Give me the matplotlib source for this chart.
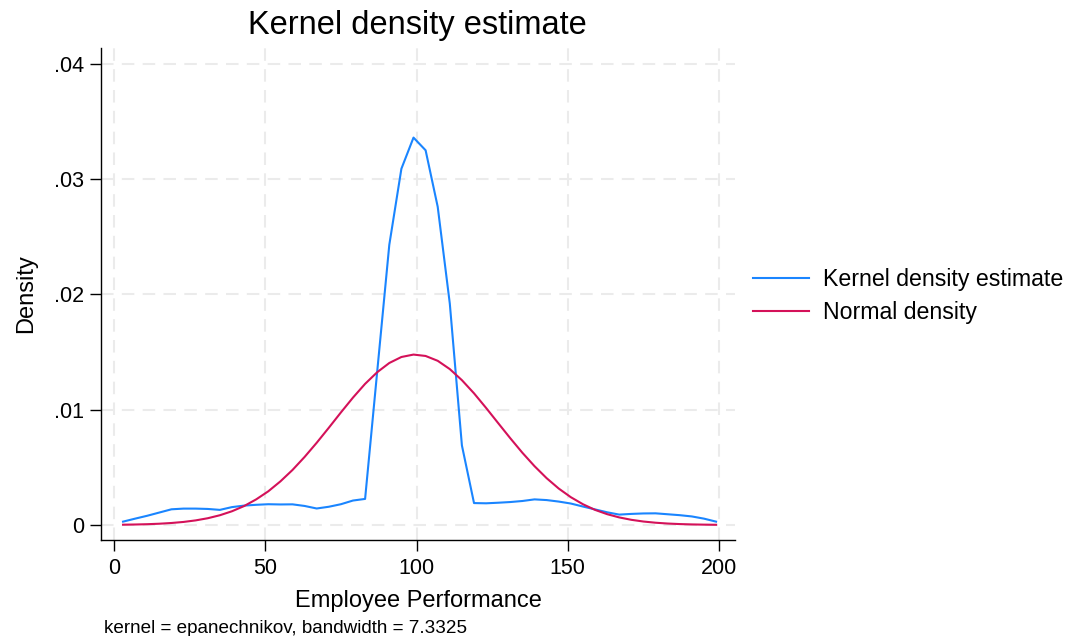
import matplotlib
matplotlib.use("Agg")
import matplotlib.pyplot as plt

plt.rcParams['font.family'] = ['Liberation Sans', 'DejaVu Sans']

# Evaluation grid (Employee Performance)
x_grid = [3, 7, 11, 15, 19, 23, 27, 31, 35, 39, 43, 47, 51, 55, 59, 63, 67, 71, 75, 79,
          83, 87, 91, 95, 99, 103, 107, 111, 115, 119, 123, 127, 131, 135, 139, 143, 147,
          151, 155, 159, 163, 167, 171, 175, 179, 183, 187, 191, 195, 199]

# Kernel density estimate
kde_vals = [0.00029, 0.00055, 0.00080, 0.00108, 0.00136, 0.00142, 0.00142, 0.00139, 0.00131,
            0.00155, 0.00168, 0.00175, 0.00180, 0.00178, 0.00179, 0.00165, 0.00143, 0.00158,
            0.00180, 0.00212, 0.00226, 0.0133, 0.0243, 0.0309, 0.0336, 0.0325, 0.0276,
            0.0192, 0.0069, 0.0019, 0.00188, 0.00193, 0.00199, 0.00208, 0.00222, 0.00216,
            0.00203, 0.00186, 0.00160, 0.00135, 0.00110, 0.00090, 0.00096, 0.00100, 0.00101,
            0.00093, 0.00085, 0.00074, 0.00055, 0.00029]

# Normal density
normal_vals = [0.0000245, 0.0000412, 0.0000679, 0.000109, 0.000172, 0.000264, 0.000398,
               0.000585, 0.000844, 0.00119, 0.00164, 0.00222, 0.00292, 0.00378, 0.00477,
               0.00590, 0.00713, 0.00843, 0.00976, 0.01105, 0.01224, 0.01325, 0.01405,
               0.01457, 0.01478, 0.01466, 0.01424, 0.01352, 0.01256, 0.01142, 0.01015,
               0.00883, 0.00752, 0.00626, 0.00510, 0.00406, 0.00316, 0.00241, 0.00180,
               0.00131, 0.000938, 0.000656, 0.000448, 0.000299, 0.000196, 0.000125,
               0.0000785, 0.000048, 0.0000288, 0.0000169]

x_ticks = [0, 50, 100, 150, 200]
y_ticks = [0, 0.01, 0.02, 0.03, 0.04]
y_tick_labels = ["0", ".01", ".02", ".03", ".04"]

blue = "#1a85ff"
red = "#d41159"

fig = plt.figure(figsize=(10.73, 6.36), dpi=100)
ax = fig.add_axes([0.0941, 0.151, 0.591, 0.7735])

ax.plot(x_grid, kde_vals, color=blue, lw=1.5, label="Kernel density estimate")
ax.plot(x_grid, normal_vals, color=red, lw=1.5, label="Normal density")

ax.set_xlim(-4.3, 205.3)
ax.set_ylim(-0.0013, 0.04137)
ax.set_xticks(x_ticks)
ax.set_yticks(y_ticks)
ax.set_yticklabels(y_tick_labels)
ax.tick_params(axis='both', labelsize=15.5, length=8, width=1, direction='out', color='black')
ax.tick_params(axis='x', pad=5)
ax.tick_params(axis='y', pad=4)

for s in ['top', 'right']:
    ax.spines[s].set_visible(False)
for s in ['left', 'bottom']:
    ax.spines[s].set_linewidth(1.0)

ax.grid(True, color='#ebebeb', linestyle=(0, (6, 4)), linewidth=1.5)
ax.set_axisbelow(True)

ax.set_xlabel("Employee Performance", fontsize=17, labelpad=8)
ax.set_ylabel("Density", fontsize=17, labelpad=12)
fig.text(0.389, 0.9465, "Kernel density estimate", fontsize=23.5, ha='center', va='baseline')
fig.text(0.097, 0.004, "kernel = epanechnikov, bandwidth = 7.3325", fontsize=13.6,
         ha='left', va='baseline')

leg = fig.legend(loc='center left', bbox_to_anchor=(0.6825, 0.5346), frameon=False,
                 fontsize=16.7, handlelength=2.4, handletextpad=0.62, labelspacing=0.42)

fig.savefig("out.png", dpi=100)
